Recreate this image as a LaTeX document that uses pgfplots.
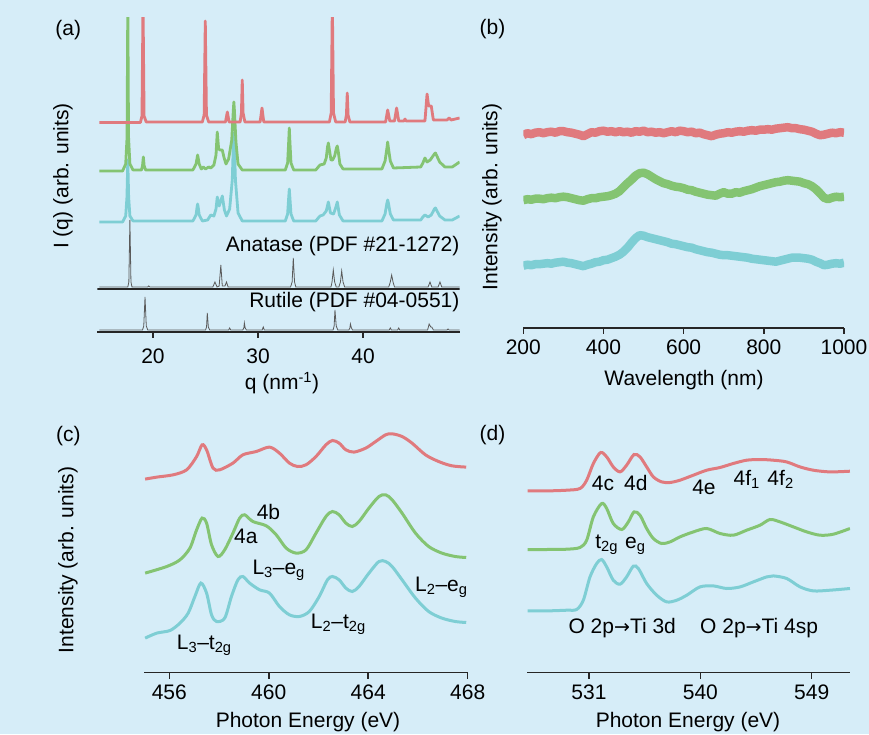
\documentclass[border=0pt]{standalone}
\usepackage{fontspec}
\setmainfont{Liberation Sans}
\newfontfamily\dejavu{DejaVu Sans}
\usepackage{pgfplots}
\pgfplotsset{compat=1.18}
\definecolor{bg}{HTML}{D6EDF8}
\definecolor{cred}{HTML}{E07A7E}
\definecolor{cgreen}{HTML}{84C472}
\definecolor{ccyan}{HTML}{7ECED4}
\definecolor{cref}{HTML}{5A5A5A}
\newcommand{\fs}{\fontsize{21}{25}\selectfont}
\newcommand{\arr}{{\dejavu\fontsize{19}{19}\selectfont →}}
\pgfplotsset{
  panel/.style={
    scale only axis, anchor=south west,
    axis x line*=bottom, axis y line=none,
    axis line style={line width=1.8pt, black!85},
    tick style={line width=1.5pt, black!85},
    tick align=outside, major tick length=6pt,
    ticklabel style={font=\fs, text=black},
    xticklabel style={yshift=-2.5pt},
    clip=true,
  },
}
\begin{document}
\begin{tikzpicture}
\fill[bg] (0pt,0pt) rectangle (869pt,734pt);
\path[use as bounding box] (0pt,0pt) rectangle (869pt,734pt);

% (a) diffraction patterns
\begin{axis}[panel, at={(97.35pt,402pt)}, width=362.25pt, height=314pt,
  xmin=14.7, xmax=49.2, ymin=0, ymax=314,
  xtick={20,30,40}, xticklabels={20,30,40}, xticklabel style={yshift=-4.5pt}]
  % cyan
  \addplot[ccyan, line width=2.8pt, line join=round] coordinates {
    (14.9,110) (17.1,110) (17.4,116) (17.52,135) (17.6,172) (17.68,135) (17.8,116) (18.1,111) (23.8,111) (24.1,117) (24.2,125) (24.25,128) (24.3,125) (24.4,117) (24.7,111) (25.2,112) (25.5,117) (25.8,116) (26.0,123) (26.12,135) (26.3,126) (26.6,136) (26.8,122) (27.0,116) (27.3,123) (27.55,152) (27.65,188) (27.7,199) (27.75,188) (27.85,152) (28.1,119) (28.5,111) (32.6,111) (32.82,118) (32.92,134) (32.98,143) (33.04,134) (33.14,118) (33.4,111) (35.5,111) (35.9,116) (36.2,117) (36.5,121) (36.7,130) (36.9,119) (37.2,118) (37.45,126) (37.55,130) (37.75,117) (38.1,111) (41.8,111) (42.1,118) (42.28,129) (42.35,132) (42.42,129) (42.6,118) (42.9,112) (45.5,112) (45.7,115) (45.9,117) (46.2,115) (46.5,117) (46.8,123) (46.9,124) (47.3,116) (47.8,112) (48.5,112) (49.2,116)};
  % green
  \addplot[cgreen, line width=2.8pt, line join=round] coordinates {
    (14.9,161) (17.1,161) (17.4,168) (17.53,195) (17.6,330) (17.67,195) (17.8,168) (18.1,162) (18.9,162) (19.0,166) (19.08,175) (19.16,166) (19.3,162) (23.8,162) (24.1,168) (24.2,174) (24.25,177) (24.3,174) (24.4,168) (24.6,163) (24.8,165) (25.0,163) (25.3,165) (25.5,164) (25.8,167) (26.0,177) (26.12,200) (26.25,183) (26.4,182) (26.6,182) (26.75,175) (26.95,168) (27.2,173) (27.5,192) (27.65,222) (27.7,230) (27.75,222) (27.9,190) (28.1,168) (28.5,162) (32.6,162) (32.82,169) (32.92,190) (32.98,204) (33.04,190) (33.14,169) (33.4,162) (35.5,162) (35.9,167) (36.3,168) (36.5,174) (36.62,185) (36.7,189) (36.8,182) (36.95,172) (37.1,172) (37.3,176) (37.47,184) (37.55,186) (37.65,180) (37.8,168) (38.1,163) (38.5,163) (41.8,163) (42.1,171) (42.28,184) (42.35,190) (42.42,184) (42.6,171) (42.9,164) (45.5,165) (45.7,169) (45.9,174) (46.1,170) (46.4,172) (46.8,178) (46.9,179) (47.3,170) (47.8,165) (48.5,165) (49.2,170)};
  % red
  \addplot[cred, line width=2.8pt, line join=round] coordinates {
    (14.9,209.5) (18.8,209.5) (18.95,216) (19.05,330) (19.15,216) (19.35,210) (24.7,210) (24.87,217) (24.98,311) (25.09,217) (25.3,210) (26.9,210) (27.08,220) (27.25,210) (28.3,210) (28.42,219) (28.5,252) (28.58,219) (28.75,210) (30.2,210) (30.38,224) (30.55,210) (36.8,210) (36.97,219) (37.08,330) (37.19,219) (37.4,210) (38.3,210) (38.42,217) (38.5,239) (38.58,217) (38.75,210) (42.15,210) (42.35,222) (42.55,211) (43.0,211) (43.2,224) (43.4,211) (43.9,211) (44.0,213) (44.1,211) (45.9,211) (46.1,238) (46.25,226) (46.5,226) (46.7,212) (48.0,212) (48.2,214) (48.4,212) (49.2,214)};
  % anatase reference
  \addplot[cref, line width=0.8pt] coordinates {
    (14.9,45) (17.6,45) (17.7,50) (17.8,112) (17.9,50) (18.0,45) (19.5,45) (19.6,46) (19.7,45) (25.7,45) (25.9,50) (26.1,45) (26.3,46) (26.46,67) (26.6,46) (26.85,46) (27.0,50) (27.15,45) (33.1,45) (33.25,50) (33.36,74) (33.48,50) (33.6,45) (36.95,45) (37.05,50) (37.17,62) (37.3,50) (37.45,45) (37.7,45) (37.85,50) (37.97,61) (38.1,50) (38.25,45) (42.45,45) (42.6,50) (42.73,57) (42.86,50) (43.0,45) (46.2,45) (46.38,50) (46.55,45) (47.15,45) (47.33,50) (47.5,45) (49.2,45)};
  % rutile reference
  \addplot[cref, line width=0.8pt] coordinates {
    (14.9,2) (19.0,2) (19.12,6) (19.24,35) (19.36,6) (19.5,2) (25.0,2) (25.1,5) (25.17,19) (25.27,5) (25.4,2) (27.2,2) (27.3,4) (27.4,2) (28.55,2) (28.65,4) (28.7,9) (28.78,4) (28.9,2) (30.4,2) (30.5,5) (30.6,2) (37.15,2) (37.25,6) (37.33,22) (37.45,6) (37.6,2) (38.65,2) (38.75,4) (38.8,8) (38.9,4) (39.0,2) (42.5,2) (42.6,4) (42.7,2) (43.3,2) (43.4,4) (43.5,2) (46.15,2) (46.3,8) (46.45,5) (46.55,5) (46.7,2) (48.0,2) (48.1,3) (48.2,2) (49.2,2)};
  \addplot[black!85, line width=1.8pt] coordinates {(14.7,43) (49.2,43)};
  \node[font=\fs, anchor=east, inner sep=0pt] at (axis cs:49.2,85.5) {Anatase (PDF \#21-1272)};
  \node[font=\fs, anchor=east, inner sep=0pt] at (axis cs:49.2,30.3) {Rutile (PDF \#04-0551)};
\end{axis}

% (b) spectra
\begin{axis}[panel, at={(523.3pt,406.3pt)}, width=320.7pt, height=300pt,
  xmin=200, xmax=1000, ymin=0, ymax=300,
  xtick={200,400,600,800,1000}, xticklabels={200,400,600,800,1000}]
  \addplot[ccyan, line width=8.5pt, line join=round] coordinates {
    (200,62) (210,63) (220,62.5) (230,63.5) (240,63.5) (250,64) (260,64.5) (270,64) (280,65) (290,65.5) (300,66) (310,65) (320,64.5) (330,63.5) (340,62.5) (350,61.5) (360,63) (370,64) (380,65.5) (390,66) (400,67.5) (410,68) (420,69.5) (430,71) (440,73) (450,76) (460,80) (470,85) (480,89.5) (490,92.5) (500,92) (510,90.5) (520,89.5) (530,88.5) (540,87.5) (550,86.5) (560,85.5) (570,84) (580,83.5) (590,82.5) (600,81.5) (610,80.5) (620,80) (630,78.5) (640,77.5) (650,76.5) (660,75.5) (670,75) (680,74) (690,73) (700,72.5) (710,72.5) (720,72) (730,71.5) (740,71) (750,70.5) (760,70) (770,69) (780,68.5) (790,68) (800,67.5) (810,67) (820,66.5) (830,66) (840,67) (850,68) (860,69) (870,70) (880,70) (890,70) (900,69.5) (910,69) (920,68) (930,66) (940,64.5) (950,62.5) (960,63) (970,64) (980,64.5) (990,64) (1000,65)};
  \addplot[cgreen, line width=8.5pt, line join=round] coordinates {
    (200,127.5) (210,128.5) (220,128) (230,129) (240,129) (250,128.5) (260,129.5) (270,130) (280,129.5) (290,130.5) (300,131) (310,130.5) (320,129.5) (330,128.5) (340,127.5) (350,127) (360,128.5) (370,129.5) (380,129.5) (390,130.5) (400,131) (410,131.5) (420,132.5) (430,134) (440,136.5) (450,140.5) (460,144.5) (470,148) (480,152) (490,154.5) (500,155) (510,153.5) (520,151) (530,148.5) (540,146.5) (550,144.5) (560,143.5) (570,142) (580,141) (590,140.5) (600,139.5) (610,138) (620,137.5) (630,136) (640,135) (650,134) (660,133) (670,132.5) (680,132) (690,134) (700,135.5) (710,134) (720,134) (730,135.5) (740,135) (750,136.5) (760,137.5) (770,138.5) (780,140) (790,141.5) (800,142.5) (810,143.5) (820,144.5) (830,145.5) (840,146) (850,147) (860,147.5) (870,147) (880,146.5) (890,146) (900,144.5) (910,143.5) (920,141.5) (930,138.5) (940,134.5) (950,130) (960,128.5) (970,130) (980,131) (990,130.5) (1000,131)};
  \addplot[cred, line width=8.5pt, line join=round] coordinates {
    (200,192.5) (210,194.5) (220,193.5) (230,195) (240,195.5) (250,194.5) (260,195.5) (270,196) (280,195) (290,196.5) (300,196.5) (310,195.5) (320,195) (330,194) (340,193) (350,191.5) (360,193.5) (370,195.5) (380,195) (390,196.5) (400,197) (410,196) (420,196.5) (430,195.5) (440,196.5) (450,195.5) (460,196) (470,195) (480,196.5) (490,196) (500,197) (510,195.5) (520,196) (530,195) (540,195.5) (550,194.5) (560,195.5) (570,196.5) (580,195.5) (590,197) (600,196.5) (610,195.5) (620,196) (630,194.5) (640,195) (650,193.5) (660,192.5) (670,191.5) (680,193) (690,194) (700,194.5) (710,195.5) (720,195) (730,196) (740,196.5) (750,196) (760,197) (770,197.5) (780,197) (790,198) (800,198) (810,198.5) (820,198) (830,199) (840,199.5) (850,200) (860,200.5) (870,199.5) (880,199.5) (890,198.5) (900,198) (910,197) (920,196) (930,194) (940,192.5) (950,193) (960,194) (970,195) (980,194.5) (990,195.5) (1000,195)};
\end{axis}

% (c) Ti L-edge
\begin{axis}[panel, at={(144.4pt,61.5pt)}, width=323.3pt, height=250pt,
  xmin=455, xmax=468, ymin=0, ymax=250,
  xtick={456,460,464,468}, xticklabels={456,460,464,468}]
  \addplot[ccyan, line width=3pt, smooth] coordinates {
    (455.03,34.4) (455.50,39.4) (456.03,42.0) (456.43,49.4) (456.76,59.4) (457.03,76.0) (457.27,89.4) (457.50,79.4) (457.70,57.7) (457.90,51.0) (458.23,54.4) (458.50,76.0) (458.76,92.7) (458.96,96.0) (459.23,89.4) (459.63,82.7) (460.03,79.4) (460.43,66.0) (460.83,57.7) (461.23,56.0) (461.63,61.0) (462.03,76.0) (462.36,92.7) (462.56,96.0) (462.83,92.7) (463.10,84.4) (463.36,81.0) (463.63,86.0) (464.03,99.4) (464.43,111.0) (464.70,111.0) (464.96,106.0) (465.36,92.7) (465.90,74.4) (466.43,61.0) (466.96,54.4) (467.50,51.0) (467.94,50.0)};
  \addplot[cgreen, line width=3pt, smooth] coordinates {
    (455.03,99.4) (455.90,106.0) (456.43,112.7) (456.83,124.4) (457.10,142.7) (457.32,154.4) (457.50,149.4) (457.70,127.7) (457.96,116.0) (458.23,122.7) (458.56,139.4) (458.83,154.4) (459.03,157.7) (459.36,151.0) (459.90,146.7) (460.30,137.7) (460.70,124.4) (461.10,119.4) (461.50,122.7) (461.90,139.4) (462.30,156.0) (462.56,161.0) (462.83,157.7) (463.10,149.4) (463.36,146.0) (463.63,151.0) (464.03,164.4) (464.43,176.0) (464.70,177.7) (464.96,172.7) (465.36,159.4) (465.90,139.4) (466.43,126.0) (466.96,119.4) (467.50,116.0) (467.94,115.0)};
  \addplot[cred, line width=3pt, smooth] coordinates {
    (455.03,193.4) (455.50,195.4) (456.16,197.7) (456.70,202.7) (457.10,216.0) (457.32,227.7) (457.50,222.7) (457.76,204.4) (458.03,202.7) (458.56,209.4) (458.96,217.7) (459.50,221.0) (460.03,225.4) (460.43,219.4) (460.83,209.4) (461.16,206.0) (461.50,207.7) (461.90,216.0) (462.30,227.7) (462.56,232.0) (462.83,229.4) (463.10,222.7) (463.43,220.4) (463.90,224.4) (464.30,231.0) (464.70,237.7) (464.96,238.7) (465.36,236.0) (465.76,229.4) (466.30,217.7) (466.83,211.0) (467.36,206.7) (467.94,205.4)};
  \node[font=\fs, anchor=base west, inner sep=0pt] at (axis cs:459.51,152.7) {4b};
  \node[font=\fs, anchor=base west, inner sep=0pt] at (axis cs:458.60,129.4) {4a};
  \node[font=\fs, anchor=base west, inner sep=0pt] at (axis cs:459.34,97.7) {L\textsubscript{3}--e\textsubscript{g}};
  \node[font=\fs, anchor=base west, inner sep=0pt] at (axis cs:465.88,81.0) {L\textsubscript{2}--e\textsubscript{g}};
  \node[font=\fs, anchor=base west, inner sep=0pt] at (axis cs:461.69,44.4) {L\textsubscript{2}--t\textsubscript{2g}};
  \node[font=\fs, anchor=base west, inner sep=0pt] at (axis cs:456.30,22.7) {L\textsubscript{3}--t\textsubscript{2g}};
\end{axis}

% (d) O K-edge
\begin{axis}[panel, at={(527.15pt,61.5pt)}, width=322.9pt, height=250pt,
  xmin=526, xmax=552.1, ymin=0, ymax=250,
  xtick={531,540,549}, xticklabels={531,540,549}]
  \addplot[ccyan, line width=3pt, smooth] coordinates {
    (526.04,61.6) (527.58,61.6) (529.20,62.3) (530.00,63.0) (530.54,72.3) (531.08,95.6) (531.62,109.0) (532.02,113.0) (532.43,105.6) (532.96,92.3) (533.51,88.3) (534.04,95.6) (534.58,106.3) (534.99,104.0) (535.66,89.0) (536.47,77.3) (537.28,70.6) (538.09,72.3) (538.90,77.3) (539.97,85.6) (541.05,86.6) (542.13,84.0) (543.21,85.6) (544.28,90.6) (545.36,95.6) (545.90,96.6) (546.98,94.0) (548.06,85.6) (549.13,81.6) (550.48,82.3) (552.09,84.0)};
  \addplot[cgreen, line width=3pt, smooth] coordinates {
    (526.04,123.0) (527.58,123.0) (529.20,123.3) (530.27,125.0) (530.81,132.3) (531.35,155.6) (532.02,169.0) (532.43,164.0) (532.96,149.0) (533.65,143.0) (534.18,150.6) (534.64,160.6) (535.12,157.3) (535.66,144.0) (536.20,134.0) (536.87,129.0) (537.55,130.6) (538.35,135.6) (539.43,140.6) (540.51,144.0) (541.59,139.0) (542.66,137.3) (543.74,142.3) (544.82,147.3) (545.63,153.0) (546.44,150.6) (547.52,145.6) (548.60,140.6) (549.67,137.3) (550.75,138.3) (552.09,144.0)};
  \addplot[cred, line width=3pt, smooth] coordinates {
    (526.04,181.6) (527.58,181.6) (529.20,182.3) (530.27,184.0) (530.81,192.3) (531.35,209.0) (531.94,220.0) (532.43,215.6) (532.96,205.6) (533.51,200.6) (534.04,207.3) (534.64,218.0) (535.12,215.6) (535.66,205.6) (536.20,195.6) (536.87,190.6) (537.55,190.0) (538.35,192.3) (539.43,197.3) (540.51,202.3) (541.59,205.0) (542.66,209.0) (543.74,212.3) (544.82,213.0) (545.89,212.3) (546.97,210.6) (548.05,205.6) (549.13,202.3) (550.47,200.6) (552.09,201.3)};
  \node[font=\fs, anchor=base west, inner sep=0pt] at (axis cs:531.22,182.3) {4c};
  \node[font=\fs, anchor=base west, inner sep=0pt] at (axis cs:533.83,182.3) {4d};
  \node[font=\fs, anchor=base west, inner sep=0pt] at (axis cs:539.33,178.3) {4e};
  \node[font=\fs, anchor=base west, inner sep=0pt] at (axis cs:542.67,187.3) {4f\textsubscript{1}};
  \node[font=\fs, anchor=base west, inner sep=0pt] at (axis cs:545.41,187.3) {4f\textsubscript{2}};
  \node[font=\fs, anchor=base west, inner sep=0pt] at (axis cs:531.49,124.0) {t\textsubscript{2g}};
  \node[font=\fs, anchor=base west, inner sep=0pt] at (axis cs:533.91,124.0) {e\textsubscript{g}};
  \node[font=\fs, anchor=base west, inner sep=0pt] at (axis cs:529.33,39.0) {O 2p\arr Ti 3d};
  \node[font=\fs, anchor=base west, inner sep=0pt] at (axis cs:539.97,39.0) {O 2p\arr Ti 4sp};
\end{axis}

% labels around the panels
\node[font=\fs] at (68.3pt,704pt) {(a)};
\node[font=\fs] at (492.5pt,705pt) {(b)};
\node[font=\fs] at (68.3pt,298pt) {(c)};
\node[font=\fs] at (492.5pt,299pt) {(d)};
\node[font=\fs, rotate=90] at (63pt,558pt) {I (q) (arb. units)};
\node[font=\fs, rotate=90] at (492pt,537pt) {Intensity (arb. units)};
\node[font=\fs, rotate=90] at (68pt,174pt) {Intensity (arb. units)};
\node[font=\fs] at (282pt,351pt) {q (nm\textsuperscript{-1})};
\node[font=\fs] at (684pt,354pt) {Wavelength (nm)};
\node[font=\fs] at (308pt,12.3pt) {Photon Energy (eV)};
\node[font=\fs] at (688pt,12.3pt) {Photon Energy (eV)};
\end{tikzpicture}
\end{document}
